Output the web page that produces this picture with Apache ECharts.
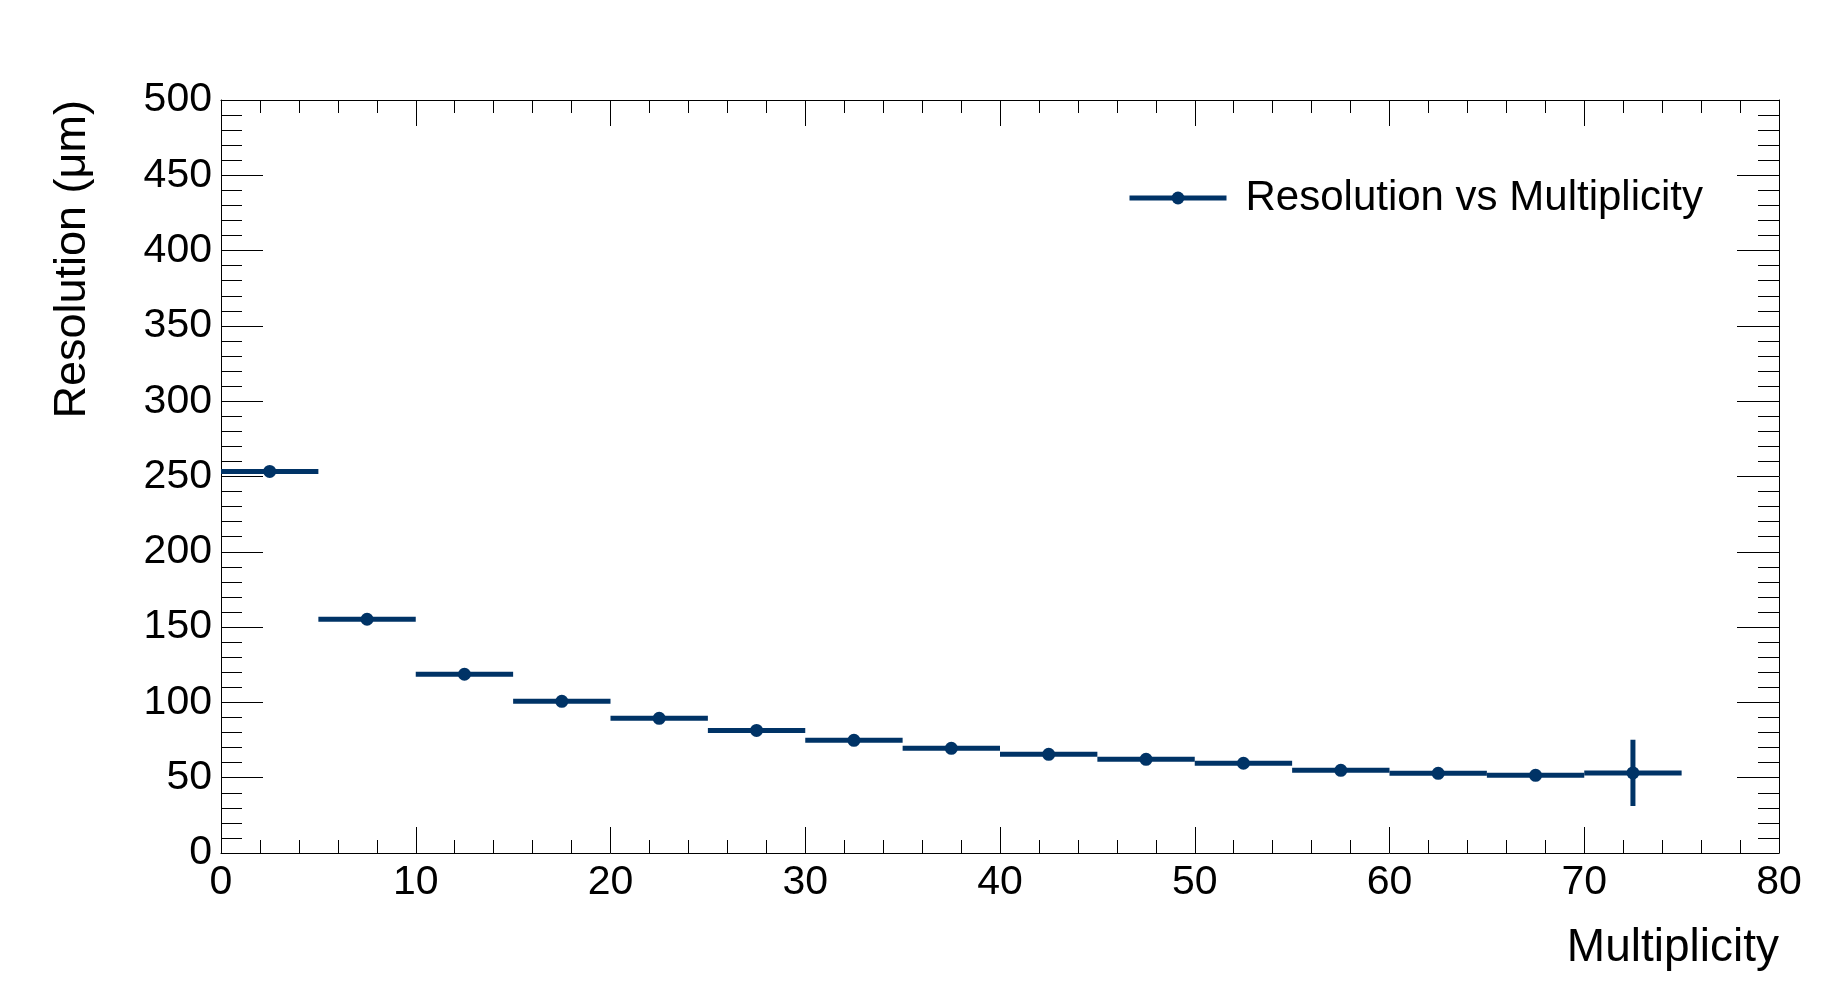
<!DOCTYPE html>
<html>
<head>
<meta charset="utf-8">
<script src="https://cdn.jsdelivr.net/npm/echarts@6/dist/echarts.min.js"></script>
<style>
html,body{margin:0;padding:0;background:#fff;}
#chart{width:1844px;height:992px;}
</style>
</head>
<body>
<div id="chart"></div>
<script>
// ---- data ----
const binCenters = [2.5, 7.5, 12.5, 17.5, 22.5, 27.5, 32.5, 37.5, 42.5, 47.5, 52.5, 57.5, 62.5, 67.5, 72.5];
const resolution = [253.4, 155.2, 118.7, 100.7, 89.4, 81.4, 74.8, 69.5, 65.5, 62.2, 59.6, 54.9, 52.9, 51.6, 53.2];
const binHalfWidth = [2.5, 2.5, 2.5, 2.5, 2.5, 2.5, 2.5, 2.5, 2.5, 2.5, 2.5, 2.5, 2.5, 2.5, 2.5];
const resolutionErr = [1.5, 1.2, 1.0, 1.0, 1.0, 1.0, 1.0, 1.0, 1.0, 1.0, 1.0, 1.0, 1.0, 1.0, 22.0];
const xTickValues = [0, 10, 20, 30, 40, 50, 60, 70, 80];
const yTickValues = [0, 50, 100, 150, 200, 250, 300, 350, 400, 450, 500];
const seriesName = 'Resolution vs Multiplicity';
const xTitle = 'Multiplicity';
const yTitle = 'Resolution (\u03bcm)';

const color = '#003366';
const font = '"Liberation Sans", Arial, Helvetica, sans-serif';

const points = binCenters.map((x, i) => [x, resolution[i]]);
const errData = binCenters.map((x, i) => [x, resolution[i], binHalfWidth[i], resolutionErr[i]]);

const chart = echarts.init(document.getElementById('chart'), null, {renderer: 'canvas'});

function xAxisBase(pos, showLabel) {
  return {
    type: 'value', position: pos, min: xTickValues[0], max: xTickValues[xTickValues.length - 1],
    interval: xTickValues[1] - xTickValues[0],
    axisLine: {show: true, onZero: false, lineStyle: {color: '#000', width: 1}},
    axisTick: {show: true, inside: true, length: 26, lineStyle: {color: '#000', width: 1}},
    minorTick: {show: true, splitNumber: 5, length: 13, lineStyle: {color: '#000', width: 1}},
    splitLine: {show: false},
    axisLabel: {show: showLabel, margin: 9, color: '#000', fontSize: 41, fontFamily: font}
  };
}
function yAxisBase(pos, showLabel) {
  return {
    type: 'value', position: pos, min: yTickValues[0], max: yTickValues[yTickValues.length - 1],
    interval: yTickValues[1] - yTickValues[0],
    axisLine: {show: true, onZero: false, lineStyle: {color: '#000', width: 1}},
    axisTick: {show: true, inside: true, length: 42, lineStyle: {color: '#000', width: 1}},
    minorTick: {show: true, splitNumber: 5, length: 21, lineStyle: {color: '#000', width: 1}},
    splitLine: {show: false},
    axisLabel: {show: showLabel, margin: 9, color: '#000', fontSize: 41, fontFamily: font}
  };
}

const xBottom = Object.assign(xAxisBase('bottom', true), {
  name: xTitle, nameLocation: 'end', nameGap: 0,
  nameTextStyle: {color: '#000', fontSize: 46, fontFamily: font, align: 'right', verticalAlign: 'top', padding: [72, 0, 0, 0]}
});
const xTop = xAxisBase('top', false);
const yLeft = Object.assign(yAxisBase('left', true), {
  name: yTitle, nameLocation: 'end', nameGap: 0, nameRotate: 90,
  nameTextStyle: {color: '#000', fontSize: 45, fontFamily: font, align: 'right', verticalAlign: 'bottom', padding: [0, 0, 126, 0]}
});
const yRight = yAxisBase('right', false);

chart.setOption({
  backgroundColor: '#fff',
  animation: false,
  grid: {left: 221, right: 65, top: 100, bottom: 139, containLabel: false},
  legend: {
    data: [seriesName], left: 1127, top: 177, padding: 0, itemWidth: 97, itemHeight: 16,
    textStyle: {color: '#000', fontSize: 42, fontFamily: font, padding: [0, 0, 0, 14]},
    lineStyle: {opacity: 1, width: 5, color: color},
    itemStyle: {color: color}
  },
  xAxis: [xBottom, xTop],
  yAxis: [yLeft, yRight],
  series: [
    {
      name: 'errors', type: 'custom', xAxisIndex: 0, yAxisIndex: 0,
      data: errData, silent: true, z: 2,
      renderItem: function (params, api) {
        const x = api.value(0), y = api.value(1), xe = api.value(2), ye = api.value(3);
        const l = api.coord([x - xe, y]), r = api.coord([x + xe, y]);
        const t = api.coord([x, y + ye]), b = api.coord([x, y - ye]);
        return {
          type: 'group',
          children: [
            {type: 'line', shape: {x1: l[0], y1: l[1], x2: r[0], y2: r[1]}, style: {stroke: color, lineWidth: 5}},
            {type: 'line', shape: {x1: t[0], y1: t[1], x2: b[0], y2: b[1]}, style: {stroke: color, lineWidth: 5}}
          ]
        };
      }
    },
    {
      name: seriesName, type: 'line', xAxisIndex: 0, yAxisIndex: 0,
      data: points, symbol: 'circle', symbolSize: 13, showSymbol: true, z: 3,
      itemStyle: {color: color},
      lineStyle: {opacity: 0, width: 5, color: color}
    }
  ]
});
</script>
</body>
</html>
